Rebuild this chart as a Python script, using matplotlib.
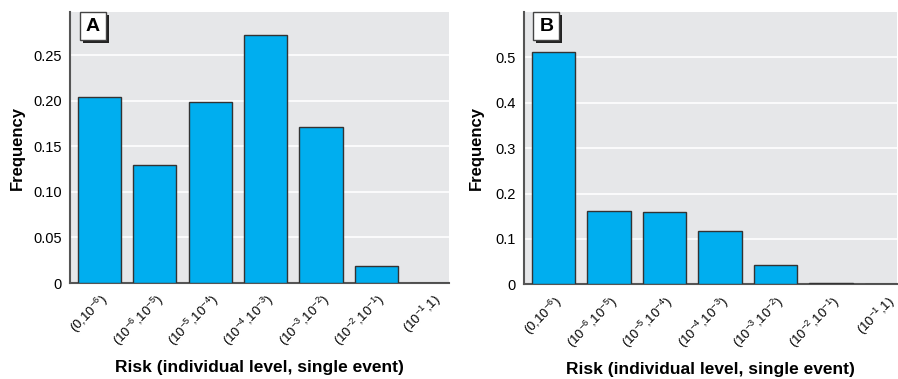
import matplotlib
matplotlib.use('Agg')
import matplotlib.pyplot as plt
import matplotlib.patches as mpatches
import numpy as np

plt.rcParams['font.family'] = ['Liberation Sans', 'DejaVu Sans']
plt.rcParams['mathtext.fontset'] = 'custom'
plt.rcParams['mathtext.rm'] = 'Liberation Sans'
plt.rcParams['mathtext.it'] = 'Liberation Sans'
plt.rcParams['mathtext.bf'] = 'Liberation Sans:bold'

categories = ['(0,10$^{-6}$)', '(10$^{-6}$,10$^{-5}$)', '(10$^{-5}$,10$^{-4}$)',
              '(10$^{-4}$,10$^{-3}$)', '(10$^{-3}$,10$^{-2}$)', '(10$^{-2}$,10$^{-1}$)',
              '(10$^{-1}$,1)']
freq_a = [0.204, 0.129, 0.198, 0.272, 0.171, 0.019, 0.0]
freq_b = [0.513, 0.162, 0.159, 0.118, 0.042, 0.003, 0.0]

yticks_a = [0, 0.05, 0.10, 0.15, 0.20, 0.25]
yticklabels_a = ['0', '0.05', '0.10', '0.15', '0.20', '0.25']
yticks_b = [0, 0.1, 0.2, 0.3, 0.4, 0.5]
yticklabels_b = ['0', '0.1', '0.2', '0.3', '0.4', '0.5']

BG = '#e6e7e9'
BAR = '#00aeef'
EDGE = '#333333'


def draw_panel(ax, values, yticks, yticklabels, ymax, xmax, letter, ylab_x):
    x = np.arange(len(categories))
    ax.set_facecolor(BG)
    ax.bar(x, values, width=0.78, color=BAR, edgecolor=EDGE, linewidth=1.0, zorder=3)
    ax.set_xlim(-0.53, xmax)
    ax.set_ylim(0, ymax)
    ax.set_yticks(yticks)
    ax.set_yticklabels(yticklabels, fontsize=10.5)
    ax.set_xticks(x)
    ax.set_xticklabels(categories, rotation=45, ha='right', rotation_mode='anchor', fontsize=9.5)
    ax.tick_params(axis='y', length=0, pad=6)
    ax.tick_params(axis='x', length=0, pad=6)
    ax.grid(axis='y', color='white', linewidth=1.2, zorder=0)
    for s in ['top', 'right']:
        ax.spines[s].set_visible(False)
    for s in ['left', 'bottom']:
        ax.spines[s].set_color('#555555')
        ax.spines[s].set_linewidth(1.5)
    ax.set_ylabel('Frequency', fontsize=12, fontweight='bold')
    ax.set_xlabel('Risk (individual level, single event)', fontsize=12.5, fontweight='bold')
    ax.yaxis.set_label_coords(ylab_x, 0.5)
    ax.xaxis.set_label_coords(0.5, -0.285)

    # boxed panel letter with drop shadow
    pw = ax.get_position().width * fig.get_figwidth() * fig.dpi
    ph = ax.get_position().height * fig.get_figheight() * fig.dpi
    bw, bh = 26 / pw, 28 / ph
    dx, dy = 3 / pw, 3 / ph
    x0, y0 = 0.025, 1.0 - bh
    ax.add_patch(mpatches.Rectangle((x0 + dx, y0 - dy), bw, bh, transform=ax.transAxes,
                                    facecolor='#222222', edgecolor='none', zorder=4, clip_on=False))
    ax.add_patch(mpatches.Rectangle((x0, y0), bw, bh, transform=ax.transAxes,
                                    facecolor='white', edgecolor='#444444', linewidth=1, zorder=5, clip_on=False))
    ax.text(x0 + bw / 2, y0 + bh / 2, letter, transform=ax.transAxes, ha='center', va='center',
            fontsize=14, fontweight='bold', zorder=6)


fig = plt.figure(figsize=(8.98, 3.79), dpi=100)
ax_a = fig.add_axes([0.078, 0.253, 0.422, 0.715])
ax_b = fig.add_axes([0.5835, 0.25, 0.4155, 0.718])

draw_panel(ax_a, freq_a, yticks_a, yticklabels_a, 0.297, 6.31, 'A', -0.118)
draw_panel(ax_b, freq_b, yticks_b, yticklabels_b, 0.60, 6.19, 'B', -0.107)

fig.savefig('out.png', dpi=100)
